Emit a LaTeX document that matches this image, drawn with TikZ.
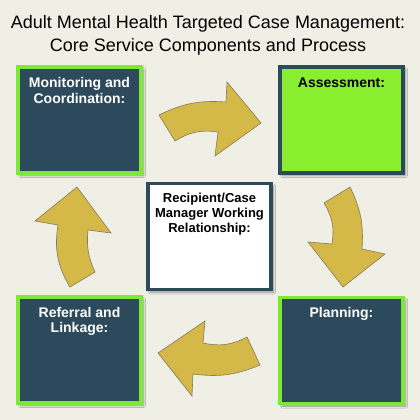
\documentclass[tikz,border=0pt]{standalone}
\usepackage{fontspec}
\setmainfont{Liberation Sans}
\usetikzlibrary{positioning, shadows.blur}
\definecolor{slate}{RGB}{44,74,92}
\definecolor{stagegreen}{RGB}{126,232,56}
\definecolor{assessgreen}{RGB}{136,238,46}
\definecolor{turngold}{RGB}{212,184,72}
\definecolor{turnline}{RGB}{135,122,88}
\definecolor{paper}{RGB}{240,239,230}

\begin{document}
\begin{tikzpicture}[
    x=1pt, y=-1pt,
    stage/.style={rectangle, draw=stagegreen, fill=slate, line width=3.5pt,
        minimum width=123pt, minimum height=106pt, inner sep=0pt,
        blur shadow={shadow xshift=2.5pt, shadow yshift=-2.5pt, shadow blur steps=6, shadow blur radius=2pt}},
    hub/.style={stage, draw=slate, fill=white},
    stagelabel/.style={font=\bfseries\fontsize{14}{15.5}\selectfont, align=center, inner sep=0pt, text=white},
    hublabel/.style={stagelabel, font=\bfseries\fontsize{13}{15}\selectfont, text=black},
    titletext/.style={font=\fontsize{18}{23.4}\selectfont, align=center, inner sep=0pt},
    turn/.style={fill=turngold, draw=turnline, line width=0.6pt}
]

\useasboundingbox (0,0) rectangle (420,420);
\fill[paper] (0,0) rectangle (420,420);

\node[titletext, anchor=base] (title) at (208,51.7)
    {Adult Mental Health Targeted Case Management:\\Core Service Components and Process};

\node[stage] (monitoring) at (79.5,120) {};
\node[stagelabel, below=12pt] at (monitoring.north) {Monitoring and\\Coordination:};

\node[stage, draw=slate, fill=assessgreen] (assessment) at (341.5,120) {};
\node[stagelabel, text=black, below=12pt] at (assessment.north) {Assessment:};

\node[stage] (planning) at (341.5,350.5) {};
\node[stagelabel, below=11pt] at (planning.north) {Planning:};

\node[stage] (referral) at (79.5,350) {};
\node[stagelabel, below=11.5pt] at (referral.north) {Referral and\\Linkage:};

\node[hub] (relationship) at (209.5,236.5) {};
\node[hublabel, below=11pt] at (relationship.north) {Recipient/Case\\Manager Working\\Relationship:};

\draw[turn] (159,115) to[bend left=15] (226,102) -- (227,82) -- (261,123)
    -- (215,156) -- (218,132) to[bend right=20] (175,141) -- cycle;
\draw[turn] (350,187) -- (324,203) to[bend left=20] (332,244) -- (308,242)
    -- (343,287) -- (385,254) -- (362,249) to[bend right=15] cycle;
\draw[turn] (158,353) -- (205,321) -- (203,343) to[bend right=20] (247,337)
    -- (260,365) to[bend left=15] (193,374) -- (192,396) -- cycle;
\draw[turn] (77,187) -- (111,233) -- (88,230) to[bend right=15] (95,272)
    -- (70,287) to[bend left=20] (58,225) -- (35,221) -- cycle;

\end{tikzpicture}
\end{document}
